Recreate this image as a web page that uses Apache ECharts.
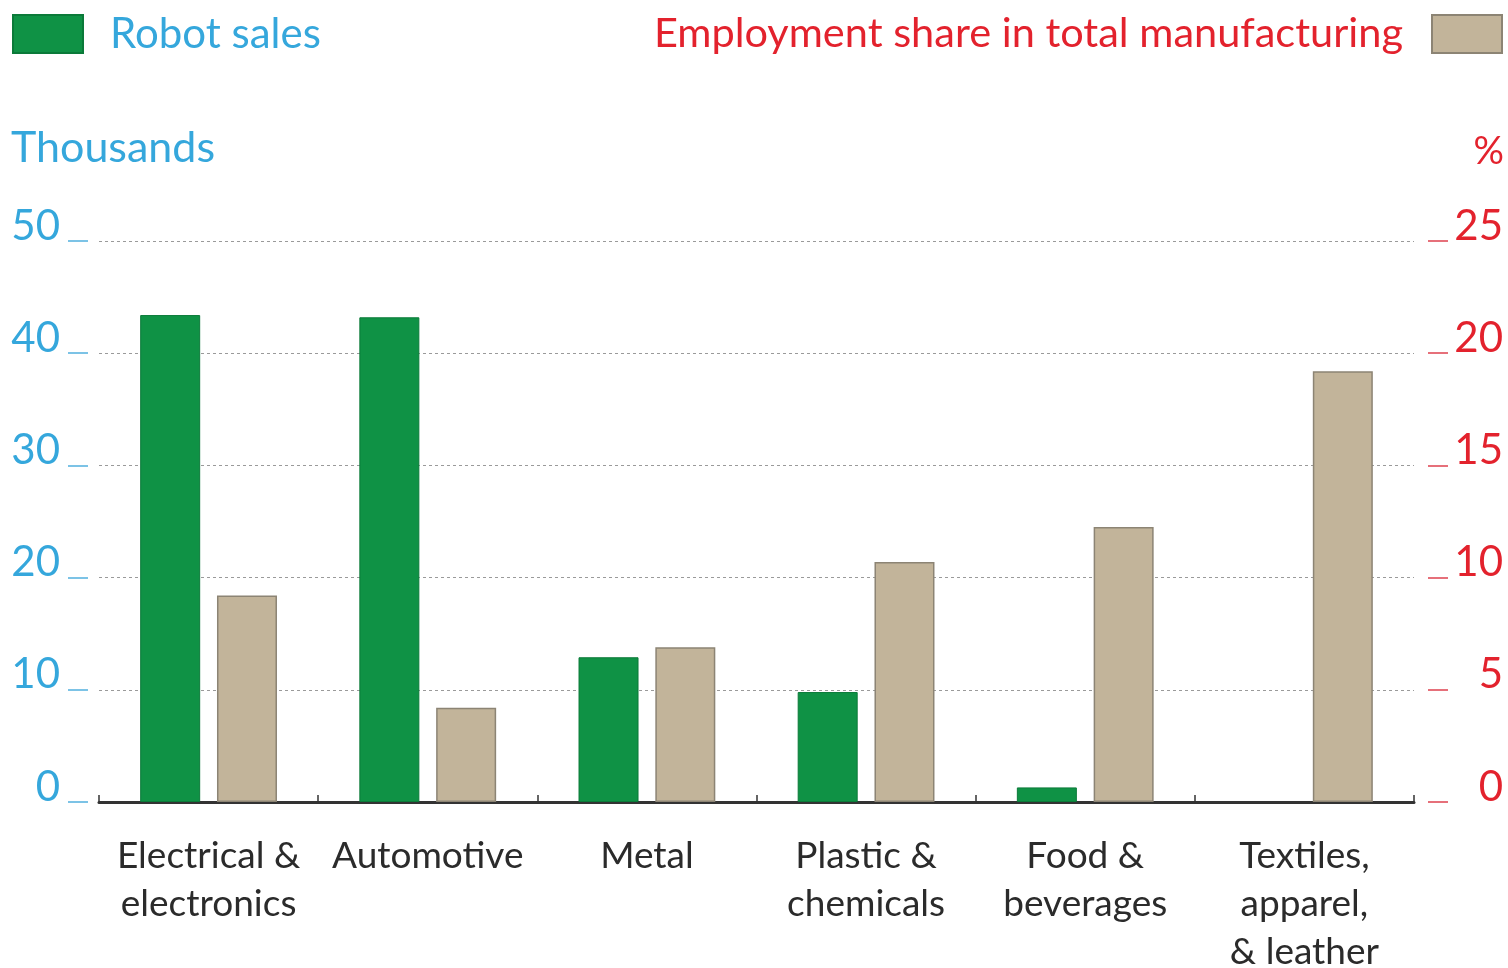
<!DOCTYPE html>
<html>
<head>
<meta charset="utf-8">
<script src="https://cdn.jsdelivr.net/npm/echarts@6/dist/echarts.min.js"></script>
<style>
  html, body { margin: 0; padding: 0; background: #fff; }
  #chart { width: 1508px; height: 968px; }
</style>
</head>
<body>
<div id="chart"></div>
<script>
// Industry groups along the x axis
const categories = [
  'Electrical &\nelectronics',
  'Automotive',
  'Metal',
  'Plastic &\nchemicals',
  'Food &\nbeverages',
  'Textiles,\napparel,\n& leather'
];
// Robot sales, thousands of units (left axis)
const robotSales = [43.4, 43.2, 12.9, 9.8, 1.3, null];
// Employment share in total manufacturing, % (right axis)
const employmentShare = [9.2, 4.2, 6.9, 10.7, 12.25, 19.2];
// Axis tick settings
const leftTicks = { min: 0, max: 50, interval: 10 };
const rightTicks = { min: 0, max: 25, interval: 5 };

const BLUE = '#35a7dc';
const RED = '#e3222d';
const GREEN = '#0f9245';
const BEIGE = '#c2b49a';
const FONT = 'Lato';

const chart = echarts.init(document.getElementById('chart'), null, { renderer: 'canvas' });

chart.setOption({
  animation: false,
  backgroundColor: '#fff',
  textStyle: { fontFamily: FONT },
  title: [
    { text: 'Thousands', left: 6, top: 122,
      textStyle: { color: BLUE, fontSize: 43, fontWeight: 'normal', fontFamily: FONT } },
    { text: '%', right: -1, top: 128,
      textStyle: { color: RED, fontSize: 38, fontWeight: 'normal', fontFamily: FONT } }
  ],
  legend: [
    {
      data: ['Robot sales'], left: 12, top: 13, padding: 0,
      itemWidth: 70, itemHeight: 38, icon: 'rect',
      textStyle: { color: BLUE, fontSize: 42, fontFamily: FONT, padding: [0, 0, 0, 22] },
      selectedMode: false
    },
    {
      data: ['Employment share in total manufacturing'], right: 5, top: 13, padding: 0,
      align: 'right', itemWidth: 70, itemHeight: 38, icon: 'rect',
      textStyle: { color: RED, fontSize: 41.5, fontFamily: FONT, padding: [0, 24, 0, 0] },
      selectedMode: false
    }
  ],
  grid: { left: 99, right: 94, top: 241, bottom: 166, containLabel: false, outerBoundsMode: 'none' },
  xAxis: {
    type: 'category',
    data: categories,
    axisLine: { show: true, lineStyle: { color: '#333', width: 3 } },
    axisTick: { show: true, inside: true, length: 7, lineStyle: { color: '#333', width: 1.5 } },
    axisLabel: {
      color: '#2b2b2b', fontSize: 37, fontFamily: FONT, lineHeight: 48, margin: 30,
      interval: 0
    }
  },
  yAxis: [
    {
      type: 'value', position: 'left', offset: 11,
      min: leftTicks.min, max: leftTicks.max, interval: leftTicks.interval,
      axisLine: { show: false },
      axisTick: { show: true, length: 20, lineStyle: { color: '#7cc3e6', width: 2 } },
      axisLabel: { color: BLUE, fontSize: 42, fontFamily: FONT, margin: 28,
        verticalAlign: 'bottom', lineHeight: 42, padding: [0, 0, -6, 0] },
      splitLine: { show: true, lineStyle: { color: '#9a9a9a', width: 1, type: [3, 3] } }
    },
    {
      type: 'value', position: 'right', offset: 14,
      min: rightTicks.min, max: rightTicks.max, interval: rightTicks.interval,
      axisLine: { show: false },
      axisTick: { show: true, length: 20, lineStyle: { color: '#e6707a', width: 2 } },
      axisLabel: { color: RED, fontSize: 42, fontFamily: FONT, margin: 75, align: 'right',
        verticalAlign: 'bottom', lineHeight: 42, padding: [0, 0, -6, 0] },
      splitLine: { show: false }
    }
  ],
  series: [
    {
      name: 'Robot sales', type: 'bar', yAxisIndex: 0,
      data: robotSales,
      barWidth: 60, barGap: '28%',
      itemStyle: { color: GREEN, borderColor: '#0b7a39', borderWidth: 1 }
    },
    {
      name: 'Employment share in total manufacturing', type: 'bar', yAxisIndex: 1,
      data: employmentShare,
      barWidth: 60, barGap: '28%',
      itemStyle: { color: BEIGE, borderColor: '#8c8474', borderWidth: 1.5 }
    }
  ]
});
</script>
</body>
</html>
